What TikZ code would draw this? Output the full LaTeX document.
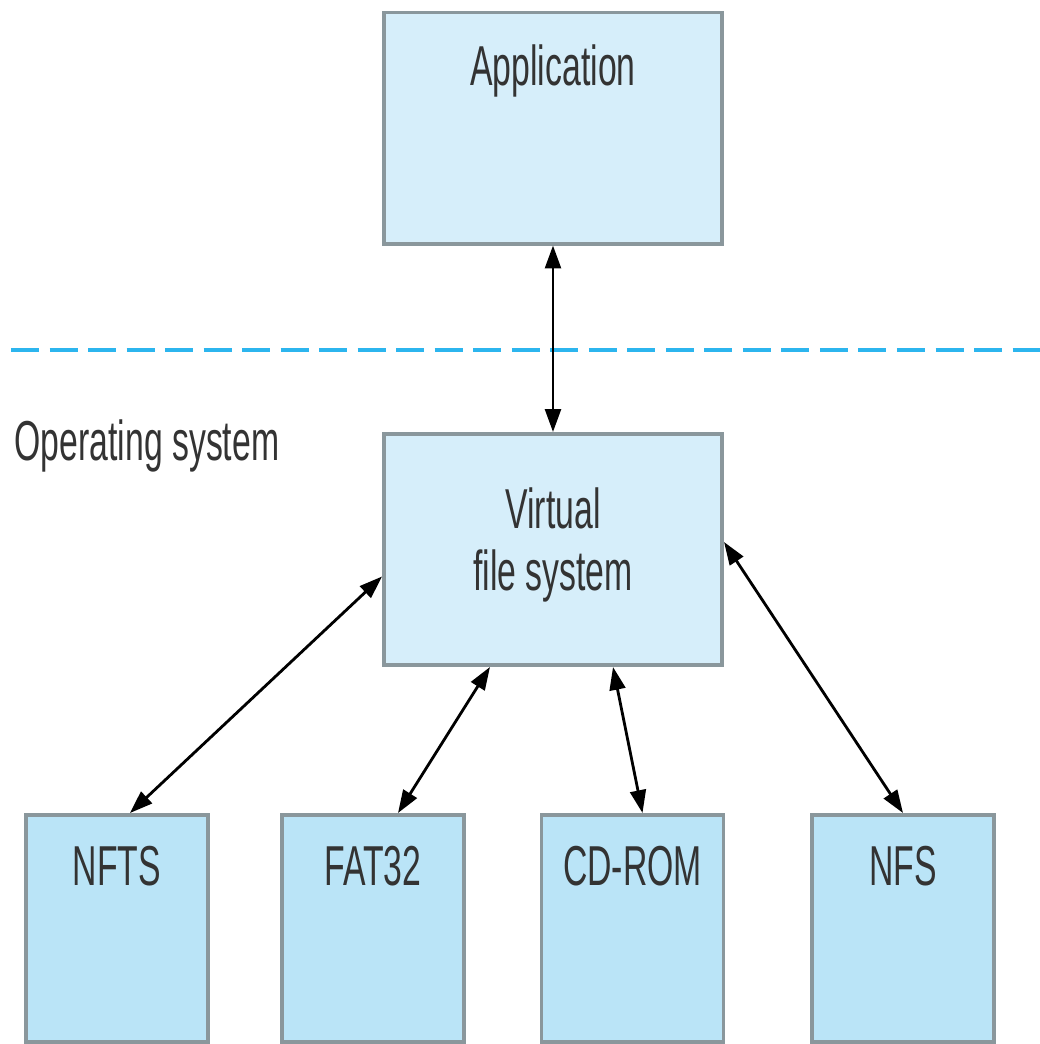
\documentclass[tikz,border=0pt]{standalone}
\usepackage{fontspec}
\setmainfont{Liberation Sans}[FakeStretch=0.6]
\usetikzlibrary{arrows.meta}
\definecolor{boxtop}{HTML}{D6EEFA}
\definecolor{boxlow}{HTML}{BAE4F7}
\definecolor{boxedge}{HTML}{8A979C}
\definecolor{sepline}{HTML}{2CB5EE}
\definecolor{txtgray}{HTML}{333333}
\begin{document}
\begin{tikzpicture}[x=0.01cm, y=-0.01cm,
    upper/.style={draw=boxedge, line width=1.1pt, fill=boxtop, minimum width=3.38cm, minimum height=2.31cm, inner sep=0pt},
    lower/.style={draw=boxedge, line width=1.1pt, fill=boxlow, minimum width=1.82cm, minimum height=2.27cm, inner sep=0pt},
    txt/.style={text=txtgray, font=\fontsize{16}{17.6}\selectfont, inner sep=0pt, anchor=base},
    link/.style={{Triangle[length=6.5pt,width=4.5pt]}-{Triangle[length=6.5pt,width=4.5pt]}, line width=0.8pt}]
    \useasboundingbox (0,0) rectangle (1040,1044);
    % boxes
    \node[upper] (app) at (553,128) {};
    \node[upper] (vfs) at (553,549.5) {};
    \node[lower] (nfts) at (117,928.5) {};
    \node[lower] (fat) at (373,928.5) {};
    \node[lower] (cdrom) at (632.5,928.5) {};
    \node[lower] (nfs) at (903,928.5) {};
    % user / kernel border
    \draw[sepline, line width=1.4pt, dash pattern=on 0.28cm off 0.105cm] (11,350) -- (1040,350);
    % texts
    \node[txt] (apptxt) at (553,85) {Application};
    \node[txt, anchor=base west] (ostxt) at (14,460) {Operating system};
    \node[txt, align=center] (vfstxt) at (553,590) {Virtual\\file system};
    \node[txt] (nftstxt) at (117,885) {NFTS};
    \node[txt] (fattxt) at (373,885) {FAT32};
    \node[txt] (cdromtxt) at (632.5,885) {CD-ROM};
    \node[txt] (nfstxt) at (903,885) {NFS};
    % links
    \draw[link] (app.south) -- (vfs.north);
    \draw[link] ([yshift=-0.27cm]vfs.west) -- ([xshift=0.13cm]nfts.north);
    \draw[link] ([xshift=-0.63cm]vfs.south) -- ([xshift=0.25cm]fat.north);
    \draw[link] ([xshift=0.6cm]vfs.south) -- ([xshift=0.1cm]cdrom.north);
    \draw[link] ([yshift=0.075cm]vfs.east) -- (nfs.north);
\end{tikzpicture}
\end{document}
